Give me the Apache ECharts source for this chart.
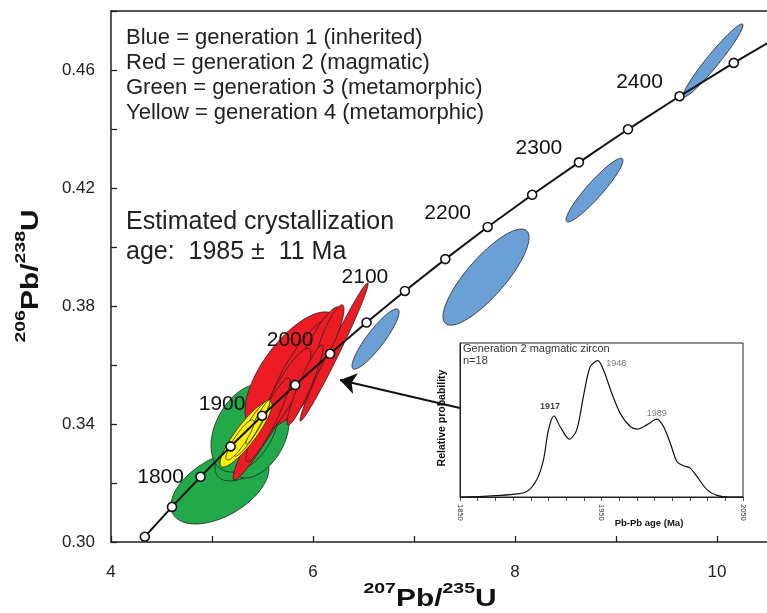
<!DOCTYPE html>
<html>
<head>
<meta charset="utf-8">
<script src="https://cdn.jsdelivr.net/npm/echarts@6/dist/echarts.min.js"></script>
<style>
html,body{margin:0;padding:0;background:#fff;}
#chart{width:767px;height:613px;}
</style>
</head>
<body>
<div id="chart"></div>
<script>
var FONT = '"Liberation Sans", Arial, Helvetica, sans-serif';

// 谐和曲线上的点 (每 50 Ma)
var concordiaAges = [1700, 1750, 1800, 1850, 1900, 1950, 2000, 2050, 2100, 2150, 2200, 2250, 2300, 2350, 2400, 2450, 2500];
var concordiaX = [4.335, 4.604, 4.887, 5.184, 5.496, 5.824, 6.169, 6.530, 6.910, 7.310, 7.729, 8.170, 8.633, 9.119, 9.629, 10.166, 10.730];
var concordiaY = [0.3018, 0.3119, 0.3221, 0.3324, 0.3428, 0.3532, 0.3638, 0.3744, 0.3851, 0.3959, 0.4068, 0.4177, 0.4287, 0.4399, 0.4511, 0.4624, 0.4738];
var labelledAges = [1800, 1900, 2000, 2100, 2200, 2300, 2400];

// 误差椭圆: [x中心, y中心, x半宽, y半高, 相关系数]
var blueEllipses = [
    [9.960, 0.4632, 0.297, 0.0124, 0.963],
    [8.787, 0.4193, 0.282, 0.0108, 0.93],
    [7.713, 0.3898, 0.426, 0.0163, 0.82],
    [6.619, 0.3688, 0.233, 0.0102, 0.89]
];
var greenEllipses = [
    [5.079, 0.3186, 0.485, 0.0125, 0.50],
    [5.327, 0.3295, 0.297, 0.0088, 0.50],
    [5.465, 0.3346, 0.297, 0.0129, 0.45],
    [5.327, 0.3386, 0.337, 0.0149, 0.40]
];
var redEllipses = [
    [5.802, 0.3580, 0.475, 0.0200, 0.67],
    [6.208, 0.3644, 0.337, 0.0234, 0.985],
    [5.673, 0.3481, 0.465, 0.0271, 0.97],
    [5.871, 0.3600, 0.297, 0.0153, 0.88],
    [6.050, 0.3668, 0.218, 0.0129, 0.88],
    [5.723, 0.3508, 0.257, 0.0149, 0.88],
    [5.554, 0.3414, 0.218, 0.0142, 0.92],
    [6.168, 0.3702, 0.139, 0.0102, 0.85],
    [5.921, 0.3532, 0.178, 0.0136, 0.93]
];
var yellowEllipses = [
    [5.337, 0.3366, 0.257, 0.0112, 0.88],
    [5.396, 0.3386, 0.178, 0.0095, 0.92],
    [5.455, 0.3407, 0.119, 0.0075, 0.95],
    [5.277, 0.3346, 0.139, 0.0068, 0.88]
];

// 箭头 (从插图指向红色椭圆)
var arrowFrom = [7.455, 0.3454];
var arrowTo = [6.267, 0.3549];

// 插图: 概率密度曲线
var densityAges = [1850, 1866.5, 1885.4, 1897.2, 1904.2, 1909, 1912.5, 1916.5, 1920.7, 1927.3, 1932.5, 1937.2, 1942, 1947.4, 1951.4, 1957.3, 1963.2, 1970.3, 1975.4, 1982, 1989.1, 1993.8, 1998.6, 2003.3, 2008, 2012.7, 2017.4, 2024.5, 2031.6, 2041, 2050];
var densityProb = [0, 0.005, 0.017, 0.041, 0.127, 0.273, 0.493, 0.595, 0.517, 0.424, 0.493, 0.737, 0.956, 1.0, 0.932, 0.761, 0.615, 0.517, 0.498, 0.529, 0.571, 0.517, 0.395, 0.261, 0.229, 0.212, 0.151, 0.054, 0.012, 0, 0];
var peakAges = [1916.5, 1947.4, 1989.1];
var peakProb = [0.595, 1.0, 0.571];
var peakNames = ['1917', '1948', '1989'];

var legendLines = [
    'Blue = generation 1 (inherited)',
    'Red = generation 2 (magmatic)',
    'Green = generation 3 (metamorphic)',
    'Yellow = generation 4 (metamorphic)'
];

var colors = ['#6aa0d6', '#22aa4a', '#ed1c24', '#fff200'];

// 拼椭圆数据, 最后一位是颜色序号
var ellipseData = [];
[blueEllipses, greenEllipses, redEllipses, yellowEllipses].forEach(function (arr, k) {
    arr.forEach(function (e) {
        ellipseData.push(e.concat([k]));
    });
});

var concordiaData = concordiaAges.map(function (age, i) {
    var item = { value: [concordiaX[i], concordiaY[i]] };
    if (labelledAges.indexOf(age) >= 0) {
        item.label = {
            show: true,
            position: 'inside',
            offset: age === 1800 ? [-40, 0] : (age === 1900 ? [-40, -12] : [-40, -14]),
            formatter: String(age),
            fontSize: 21,
            fontFamily: FONT,
            color: '#111'
        };
    }
    return item;
});

var peakData = peakAges.map(function (a, i) {
    var lab = { show: true, fontSize: 9, fontFamily: FONT, color: '#555', formatter: peakNames[i] };
    if (i === 0) {
        lab.position = 'top'; lab.distance = 4; lab.color = '#111'; lab.fontWeight = 'bold'; lab.offset = [-4, 0];
    } else if (i === 1) {
        lab.position = 'right'; lab.distance = 8; lab.offset = [0, 3];
    } else {
        lab.position = 'top'; lab.distance = 1;
    }
    return { value: [a, peakProb[i]], label: lab };
});

// 轴名: 上标分开画
var measureCtx = document.createElement('canvas').getContext('2d');
function nameGraphic(parts, cx, cy, vertical) {
    var sx = 1.3, total = 0;
    parts.forEach(function (p) {
        p.font = 'bold ' + (p.sup ? 15 : 23) + 'px ' + FONT;
        measureCtx.font = p.font;
        p.w = measureCtx.measureText(p.t).width * sx;
        total += p.w;
    });
    var s = -total / 2, out = [];
    parts.forEach(function (p) {
        var shift = p.sup ? -11 : 0;
        out.push({
            type: 'text',
            x: vertical ? cx + shift : cx + s,
            y: vertical ? cy - s : cy + shift,
            rotation: vertical ? Math.PI / 2 : 0,
            scaleX: sx,
            style: { text: p.t, font: p.font, fill: '#111', align: 'left', verticalAlign: 'middle' }
        });
        s += p.w;
    });
    return out;
}

var graphics = [];
legendLines.forEach(function (t, i) {
    graphics.push({
        type: 'text', x: 126, y: 38 + i * 25,
        style: { text: t, font: '22px ' + FONT, fill: '#222', verticalAlign: 'middle' }
    });
});
graphics.push({
    type: 'text', x: 126, y: 222,
    style: { text: 'Estimated crystallization', font: '25px ' + FONT, fill: '#222', verticalAlign: 'middle' }
});
graphics.push({
    type: 'text', x: 126, y: 252,
    style: { text: 'age:  1985 \u00b1  11 Ma', font: '25px ' + FONT, fill: '#222', verticalAlign: 'middle' }
});
graphics = graphics.concat(nameGraphic([
    { t: '207', sup: true }, { t: 'Pb/' }, { t: '235', sup: true }, { t: 'U' }
], 430, 600, false));
graphics = graphics.concat(nameGraphic([
    { t: '206', sup: true }, { t: 'Pb/' }, { t: '238', sup: true }, { t: 'U' }
], 32, 276, true));
// 插图文字
graphics.push({
    type: 'text', x: 463, y: 349, z: 10,
    style: { text: 'Generation 2 magmatic zircon', font: '11px ' + FONT, fill: '#333', verticalAlign: 'middle' }
});
graphics.push({
    type: 'text', x: 463, y: 361, z: 10,
    style: { text: 'n=18', font: '11px ' + FONT, fill: '#333', verticalAlign: 'middle' }
});
graphics.push({
    type: 'text', x: 442, y: 418, rotation: Math.PI / 2, z: 10,
    style: { text: 'Relative probability', font: 'bold 10.5px ' + FONT, fill: '#111', align: 'center', verticalAlign: 'middle' }
});
graphics.push({
    type: 'text', x: 649, y: 523, z: 10,
    style: { text: 'Pb-Pb age (Ma)', font: 'bold 9.5px ' + FONT, fill: '#111', align: 'center', verticalAlign: 'middle' }
});

var chart = echarts.init(document.getElementById('chart'));
var option = {
    animation: false,
    backgroundColor: '#fff',
    textStyle: { fontFamily: FONT },
    graphic: graphics,
    grid: [
        { left: 111, top: 11, right: 0, bottom: 71, show: false, outerBoundsMode: 'none' },
        { left: 460, top: 343, width: 283, height: 154, show: true, borderColor: '#222', borderWidth: 1, backgroundColor: '#fff', z: 3, outerBoundsMode: 'none' }
    ],
    xAxis: [{
        type: 'value', gridIndex: 0, min: 4, max: 10.495, interval: 1,
        axisLine: { lineStyle: { color: '#222', width: 1.5 } },
        axisTick: { inside: true, length: 6, lineStyle: { color: '#222', width: 1.3 } },
        axisLabel: {
            margin: 22, fontSize: 17, color: '#222', showMaxLabel: false,
            formatter: function (v) { return v % 2 === 0 ? String(v) : ''; }
        },
        splitLine: { show: false }
    }, {
        type: 'value', gridIndex: 1, min: 1850, max: 2050, interval: 12.5, z: 4,
        axisLine: { lineStyle: { color: '#222', width: 1 } },
        axisTick: { length: 4, lineStyle: { color: '#222', width: 0.8 } },
        axisLabel: {
            rotate: -90, margin: 7, fontSize: 7.5, color: '#333',
            formatter: function (v) { return v % 100 === 50 ? String(v) : ''; }
        },
        splitLine: { show: false }
    }, {
        // 顶部边框线
        type: 'value', gridIndex: 0, position: 'top', min: 4, max: 10.495,
        axisLine: { show: true, lineStyle: { color: '#222', width: 1.5 } },
        axisTick: { show: false },
        axisLabel: { show: false },
        splitLine: { show: false }
    }],
    yAxis: [{
        type: 'value', gridIndex: 0, min: 0.30, max: 0.48, interval: 0.02,
        axisLine: { show: true, lineStyle: { color: '#222', width: 1.5 } },
        axisTick: { show: true, inside: true, length: 6, lineStyle: { color: '#222', width: 1.3 } },
        axisLabel: {
            margin: 16, fontSize: 17, color: '#222',
            formatter: function (v) { return Math.round(v * 100) % 4 === 2 ? v.toFixed(2) : ''; }
        },
        splitLine: { show: false }
    }, {
        type: 'value', gridIndex: 1, min: 0, max: 1.13, z: 4,
        axisLine: { show: true, lineStyle: { color: '#222', width: 1 } },
        axisTick: { show: false },
        axisLabel: { show: false },
        splitLine: { show: false }
    }],
    series: [{
        type: 'custom',
        xAxisIndex: 0, yAxisIndex: 0,
        z: 2,
        silent: true,
        encode: { x: 0, y: 1 },
        data: ellipseData,
        renderItem: function (params, api) {
            var cx = api.value(0), cy = api.value(1), a = api.value(2), b = api.value(3), r = api.value(4);
            var pts = [];
            for (var i = 0; i < 90; i++) {
                var t = i / 90 * Math.PI * 2;
                pts.push(api.coord([cx + a * Math.cos(t), cy + b * (r * Math.cos(t) + Math.sqrt(1 - r * r) * Math.sin(t))]));
            }
            return {
                type: 'polygon',
                shape: { points: pts },
                style: { fill: colors[api.value(5)], stroke: '#222', lineWidth: 0.8 }
            };
        }
    }, {
        type: 'line',
        xAxisIndex: 0, yAxisIndex: 0,
        z: 5,
        data: concordiaData,
        symbol: 'circle',
        symbolSize: 9,
        itemStyle: { color: '#fff', borderColor: '#111', borderWidth: 1.6 },
        lineStyle: { color: '#111', width: 2 },
        emphasis: { disabled: true },
        markLine: {
            silent: true,
            symbol: ['none', 'arrow'],
            symbolSize: 16,
            label: { show: false },
            lineStyle: { color: '#111', width: 2, type: 'solid' },
            data: [[{ coord: arrowFrom }, { coord: arrowTo }]]
        }
    }, {
        type: 'line',
        xAxisIndex: 1, yAxisIndex: 1,
        z: 6,
        smooth: 0.3,
        symbol: 'none',
        lineStyle: { color: '#111', width: 1.2 },
        data: densityAges.map(function (a, i) { return [a, densityProb[i]]; })
    }, {
        type: 'scatter',
        xAxisIndex: 1, yAxisIndex: 1,
        z: 6,
        symbolSize: 1,
        itemStyle: { color: 'transparent' },
        data: peakData
    }]
};
chart.setOption(option);
</script>
</body>
</html>
